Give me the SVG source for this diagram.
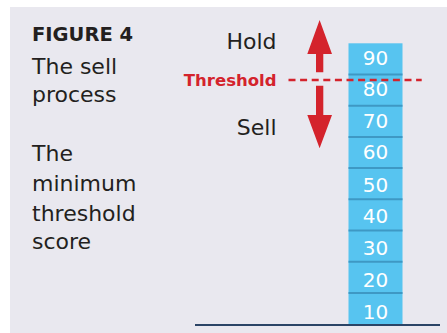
<svg xmlns="http://www.w3.org/2000/svg" width="447" height="333" viewBox="0 0 447 333">
<style>
.t{font-family:"DejaVu Sans","Liberation Sans",sans-serif;fill:#231f20}
.lbl{font-size:22px}
.num{font-family:"DejaVu Sans","Liberation Sans",sans-serif;font-size:20px;fill:#ffffff;text-anchor:middle}
.seg{fill:#57c4f0}
.div{stroke:#3e98c4;stroke-width:2}
.red{fill:#d4232c}
</style>
<rect x="0" y="0" width="447" height="333" fill="#ffffff"/>
<rect x="10" y="7" width="437" height="326" fill="#e9e8ef"/>
<g id="title">
<text class="t" x="32" y="41" font-size="19.5" font-weight="bold">FIGURE 4</text>
<text class="t lbl" x="32" y="74">The sell</text>
<text class="t lbl" x="32" y="102">process</text>
</g>
<g id="subtitle">
<text class="t lbl" x="32" y="161">The</text>
<text class="t lbl" x="32" y="191">minimum</text>
<text class="t lbl" x="32" y="220.5">threshold</text>
<text class="t lbl" x="32" y="249">score</text>
</g>
<g id="labels">
<text class="t lbl" x="276.5" y="49.3" text-anchor="end">Hold</text>
<text class="t lbl" x="276.5" y="135" text-anchor="end">Sell</text>
<text class="t" x="276.5" y="85.7" text-anchor="end" font-size="16.5" font-weight="bold" fill="#d4232c" style="fill:#d4232c">Threshold</text>
</g>
<g id="bar">
<rect class="seg" x="348.5" y="43.3" width="54" height="281"/>
<line class="div" x1="348.5" x2="402.5" y1="74.5" y2="74.5"/>
<line class="div" x1="348.5" x2="402.5" y1="105.7" y2="105.7"/>
<line class="div" x1="348.5" x2="402.5" y1="136.9" y2="136.9"/>
<line class="div" x1="348.5" x2="402.5" y1="168.1" y2="168.1"/>
<line class="div" x1="348.5" x2="402.5" y1="199.3" y2="199.3"/>
<line class="div" x1="348.5" x2="402.5" y1="230.5" y2="230.5"/>
<line class="div" x1="348.5" x2="402.5" y1="261.7" y2="261.7"/>
<line class="div" x1="348.5" x2="402.5" y1="292.9" y2="292.9"/>
<text class="num" x="375.5" y="64.5">90</text>
<text class="num" x="375.5" y="96">80</text>
<text class="num" x="375.5" y="127.5">70</text>
<text class="num" x="375.5" y="159">60</text>
<text class="num" x="375.5" y="191.5">50</text>
<text class="num" x="375.5" y="223">40</text>
<text class="num" x="375.5" y="254.8">30</text>
<text class="num" x="375.5" y="287">20</text>
<text class="num" x="375.5" y="318.5">10</text>
</g>
<g id="connectors">
<polygon class="red" points="319.6,20 332,54 323.3,54 323.3,72.3 316,72.3 316,54 307.3,54"/>
<polygon class="red" points="319.6,148.3 332,115 323.3,115 323.3,85.7 316,85.7 316,115 307.3,115"/>
<line x1="288.5" y1="80" x2="421.7" y2="80" stroke="#d4232c" stroke-width="2.5" stroke-dasharray="7 4.6"/>
<line x1="195" y1="325" x2="440" y2="325" stroke="#2b4466" stroke-width="2"/>
</g>
</svg>
